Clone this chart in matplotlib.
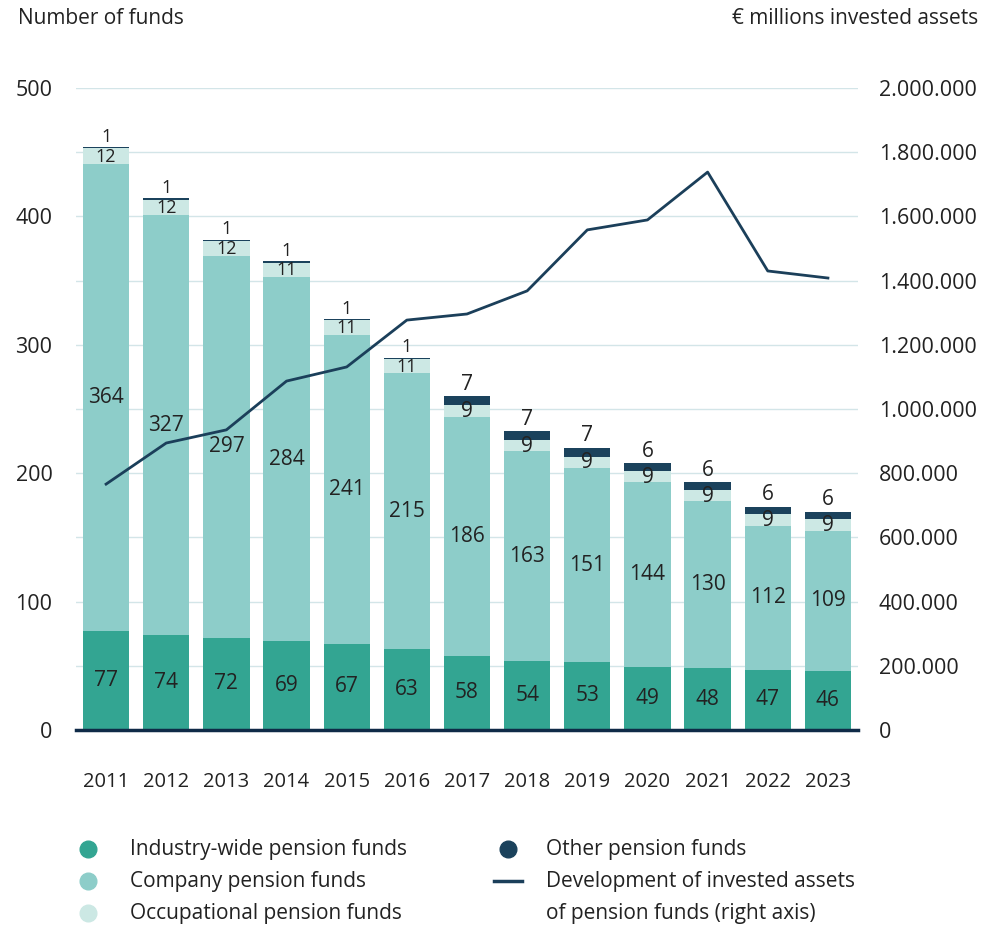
import numpy as np
import matplotlib.pyplot as plt
from matplotlib.lines import Line2D

plt.rcParams['font.family'] = ['Open Sans', 'DejaVu Sans']

# data
years = ['2011', '2012', '2013', '2014', '2015', '2016', '2017',
         '2018', '2019', '2020', '2021', '2022', '2023']
industry = [77, 74, 72, 69, 67, 63, 58, 54, 53, 49, 48, 47, 46]
company = [364, 327, 297, 284, 241, 215, 186, 163, 151, 144, 130, 112, 109]
occupational = [12, 12, 12, 11, 11, 11, 9, 9, 9, 9, 9, 9, 9]
other = [1, 1, 1, 1, 1, 1, 7, 7, 7, 6, 6, 6, 6]
assets = [766000, 894000, 935000, 1087000, 1131000, 1277000, 1296000,
          1368000, 1558000, 1589000, 1738000, 1430000, 1408000]

c_ind = '#33a592'
c_comp = '#8dcdc9'
c_occ = '#cce8e4'
c_oth = '#1b425c'
c_line = '#1b3f5a'
c_text = '#222222'
c_grid = '#d3e5e8'

W, H = 1002, 925
fig = plt.figure(figsize=(W / 100, H / 100), dpi=100)
ax = fig.add_axes([76 / W, 1 - 730 / H, (858 - 76) / W, (730 - 88) / H])
ax2 = ax.twinx()

x = np.arange(len(years))
bw = 0.77
ind = np.array(industry)
comp = np.array(company)
occ = np.array(occupational)
oth = np.array(other)

ax.bar(x, ind, bw, color=c_ind, zorder=2)
ax.bar(x, comp, bw, bottom=ind, color=c_comp, zorder=2)
ax.bar(x, occ, bw, bottom=ind + comp, color=c_occ, zorder=2)
ax.bar(x, oth, bw, bottom=ind + comp + occ, color=c_oth, zorder=2)

fs = 15
small = 13
for i in range(len(years)):
    ax.text(x[i], ind[i] / 2, str(industry[i]), ha='center', va='center',
            fontsize=fs, color=c_text, zorder=3)
    ax.text(x[i], ind[i] + comp[i] / 2, str(company[i]), ha='center', va='center',
            fontsize=fs, color=c_text, zorder=3)
    ax.text(x[i], ind[i] + comp[i] + occ[i] / 2 - 0.5, str(occupational[i]),
            ha='center', va='center', fontsize=small if other[i] == 1 else fs,
            color=c_text, zorder=3)
    top = ind[i] + comp[i] + occ[i] + oth[i]
    ax.text(x[i], top + 1.0, str(other[i]), ha='center', va='bottom',
            fontsize=small if other[i] == 1 else fs, color=c_text, zorder=3)

ax.set_xlim(-0.5, len(years) - 0.5)
ax.set_ylim(0, 500)
ax.set_yticks(np.arange(0, 501, 50))
ax.set_yticklabels([str(v) if v % 100 == 0 else '' for v in range(0, 501, 50)])
ax.grid(axis='y', color=c_grid, linewidth=1, zorder=0)
ax.set_axisbelow(True)
ax.set_xticks(x)
ax.set_xticklabels(years)
ax.tick_params(axis='both', length=0, colors=c_text)
ax.tick_params(axis='x', pad=30, labelsize=14.5)
ax.tick_params(axis='y', pad=17, labelsize=15.5)
for s in ['top', 'left', 'right']:
    ax.spines[s].set_visible(False)
ax.spines['bottom'].set_color('#0f2a47')
ax.spines['bottom'].set_linewidth(2.5)
ax.spines['bottom'].set_zorder(5)

ax2.plot(x, assets, color=c_line, linewidth=2, zorder=4)
ax2.set_ylim(0, 2000000)
ax2.set_yticks(np.arange(0, 2000001, 200000))
ax2.set_yticklabels(['0' if v == 0 else f'{v:,}'.replace(',', '.')
                     for v in range(0, 2000001, 200000)])
ax2.tick_params(axis='y', length=0, labelsize=15.5, colors=c_text, pad=15)
for s in ['top', 'left', 'right', 'bottom']:
    ax2.spines[s].set_visible(False)

fig.text(18 / W, 1 - 18 / H, 'Number of funds', ha='left', va='center',
         fontsize=fs, color=c_text)
fig.text(978 / W, 1 - 18 / H, '€ millions invested assets', ha='right', va='center',
         fontsize=fs, color=c_text)

# legend
lg = fig.add_axes([0, 0, 1, 1])
lg.set_xlim(0, W)
lg.set_ylim(H, 0)
lg.axis('off')
items = [
    (88, 849, c_ind, 'Industry-wide pension funds'),
    (88, 881, c_comp, 'Company pension funds'),
    (88, 913, c_occ, 'Occupational pension funds'),
    (508, 849, c_oth, 'Other pension funds'),
]
for mx, my, col, label in items:
    lg.plot([mx], [my], marker='o', markersize=12, color=col, linestyle='none')
    lg.text(mx + 42 if mx < 300 else 546, my, label, ha='left', va='center',
            fontsize=fs, color=c_text)
lg.add_line(Line2D([494, 522], [881, 881], color=c_line, linewidth=2.5))
lg.text(546, 881, 'Development of invested assets', ha='left', va='center',
        fontsize=fs, color=c_text)
lg.text(546, 913, 'of pension funds (right axis)', ha='left', va='center',
        fontsize=fs, color=c_text)

plt.savefig('out.png', dpi=100)
